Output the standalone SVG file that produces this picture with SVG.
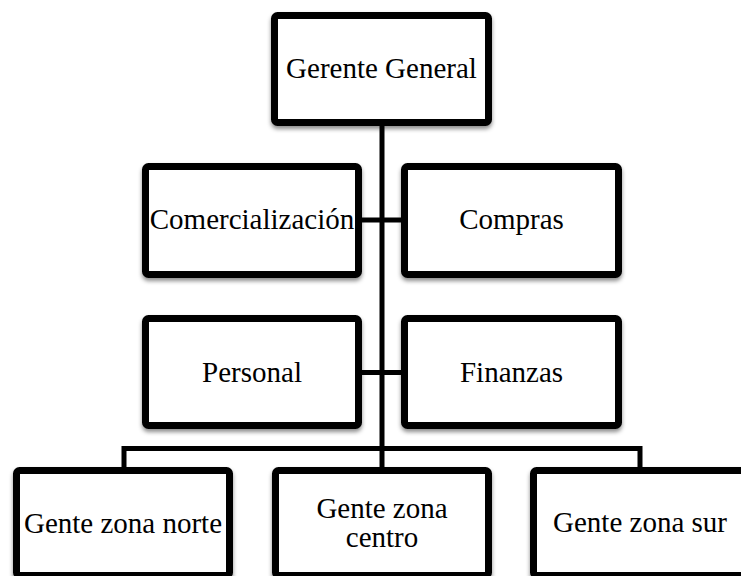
<svg xmlns="http://www.w3.org/2000/svg" width="741" height="576" viewBox="0 0 741 576">
<style>
.box{fill:#fff;stroke:#000;stroke-width:7;filter:url(#sh)}
.lbl{font-family:'Liberation Serif','Tinos','DejaVu Serif',serif;font-size:29px;fill:#000;text-anchor:middle}
.con{fill:none;stroke:#000;stroke-width:5}
</style>
<defs>
<filter id="sh" x="-10%" y="-10%" width="125%" height="130%">
<feDropShadow dx="0" dy="3" stdDeviation="2" flood-color="#000" flood-opacity="0.45"/>
</filter>
</defs>
<rect width="741" height="576" fill="#fff"/>
<g id="connectors">
<line class="con" x1="382" y1="124" x2="382" y2="469"/>
<line class="con" x1="360" y1="220" x2="403" y2="220"/>
<line class="con" x1="360" y1="372.5" x2="403" y2="372.5"/>
<path class="con" d="M124 469 V448.5 H640 V469"/>
</g>
<g id="gerente">
<rect class="box" x="274.5" y="15.5" width="214" height="107" rx="3"/>
<text class="lbl" x="381.5" y="78">Gerente General</text>
</g>
<g id="comercializacion">
<rect class="box" x="145.5" y="166.5" width="213" height="108" rx="3"/>
<text class="lbl" x="252" y="229">Comercialización</text>
</g>
<g id="compras">
<rect class="box" x="404.5" y="166.5" width="214" height="108" rx="3"/>
<text class="lbl" x="511.5" y="229">Compras</text>
</g>
<g id="personal">
<rect class="box" x="145.5" y="318.5" width="213" height="107" rx="3"/>
<text class="lbl" x="252" y="382">Personal</text>
</g>
<g id="finanzas">
<rect class="box" x="404.5" y="318.5" width="214" height="107" rx="3"/>
<text class="lbl" x="511.5" y="382">Finanzas</text>
</g>
<g id="norte">
<rect class="box" x="16.5" y="470.5" width="213" height="105" rx="3"/>
<text class="lbl" x="123" y="533">Gente zona norte</text>
</g>
<g id="centro">
<rect class="box" x="275.5" y="470.5" width="213" height="105" rx="3"/>
<text class="lbl" x="382" y="518">Gente zona</text>
<text class="lbl" x="382" y="547">centro</text>
</g>
<g id="sur">
<rect class="box" x="533.5" y="470.5" width="213" height="105" rx="3"/>
<text class="lbl" x="640" y="532">Gente zona sur</text>
</g>
</svg>
